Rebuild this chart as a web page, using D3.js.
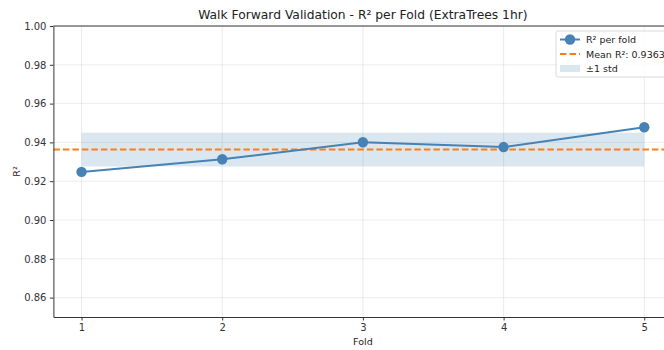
<!DOCTYPE html>
<html>
<head>
<meta charset="utf-8">
<script src="https://cdn.jsdelivr.net/npm/d3@7"></script>
<style>
  html, body { margin: 0; padding: 0; background: #fff; }
  svg { display: block; }
</style>
</head>
<body>
<div id="chart"></div>
<script>
// walk-forward R² per fold, ExtraTrees 1hr
const folds = [1, 2, 3, 4, 5];
const r2 = [0.9248, 0.9313, 0.9401, 0.9376, 0.9478];
const meanR2 = 0.9363;
const stdR2 = 0.0087;
const yTicks = [0.86, 0.88, 0.90, 0.92, 0.94, 0.96, 0.98, 1.00];
const legendLabels = ["R² per fold", "Mean R²: 0.9363", "±1 std"];

const W = 664, H = 350;
const ML = 53.4, MR = -8.4, MT = 26, MB = 33;
const FONT = "'DejaVu Sans', sans-serif";
const BLUE = "#4682b4", ORANGE = "#ff7f0e";

const x = d3.scaleLinear().domain([0.8, 5.2]).range([ML, W - MR]);
const y = d3.scaleLinear().domain([0.85, 1.0]).range([H - MB, MT]);

const svg = d3.select("#chart").append("svg")
  .attr("width", W).attr("height", H)
  .style("font-family", FONT);

svg.append("clipPath").attr("id", "plot")
  .append("rect").attr("x", ML).attr("y", MT)
  .attr("width", x(5.2) - ML).attr("height", y(0.85) - MT);

const plot = svg.append("g").attr("clip-path", "url(#plot)");

// grid
yTicks.forEach(v => {
  plot.append("line")
    .attr("x1", ML).attr("x2", x(5.2))
    .attr("y1", y(v)).attr("y2", y(v))
    .attr("stroke", "#b0b0b0").attr("stroke-opacity", 0.3).attr("stroke-width", 0.8);
});
folds.forEach(f => {
  plot.append("line")
    .attr("x1", x(f)).attr("x2", x(f))
    .attr("y1", MT).attr("y2", y(0.85))
    .attr("stroke", "#b0b0b0").attr("stroke-opacity", 0.3).attr("stroke-width", 0.8);
});

// ±1 std band
plot.append("rect")
  .attr("x", x(folds[0])).attr("width", x(folds[folds.length - 1]) - x(folds[0]))
  .attr("y", y(meanR2 + stdR2)).attr("height", y(meanR2 - stdR2) - y(meanR2 + stdR2))
  .attr("fill", BLUE).attr("fill-opacity", 0.2);

// mean line
plot.append("line")
  .attr("x1", ML).attr("x2", x(5.2))
  .attr("y1", y(meanR2)).attr("y2", y(meanR2))
  .attr("stroke", ORANGE).attr("stroke-width", 2).attr("stroke-dasharray", "6.5 3");

// fold line + markers
const pts = folds.map((f, i) => [f, r2[i]]);
plot.append("path")
  .attr("d", d3.line().x(d => x(d[0])).y(d => y(d[1]))(pts))
  .attr("fill", "none").attr("stroke", BLUE).attr("stroke-width", 2);
plot.selectAll("circle.pt").data(pts).join("circle")
  .attr("class", "pt")
  .attr("cx", d => x(d[0])).attr("cy", d => y(d[1])).attr("r", 5.2)
  .attr("fill", BLUE);

// axes
const yAxis = svg.append("g")
  .attr("transform", `translate(${ML},0)`)
  .call(d3.axisLeft(y).tickValues(yTicks).tickFormat(d3.format(".2f"))
    .tickSizeInner(3.5).tickSizeOuter(0).tickPadding(3.5));
const xAxis = svg.append("g")
  .attr("transform", `translate(0,${y(0.85)})`)
  .call(d3.axisBottom(x).tickValues(folds).tickFormat(d3.format("d"))
    .tickSizeInner(3.5).tickSizeOuter(0).tickPadding(3.5));
[yAxis, xAxis].forEach(a => {
  a.select(".domain").attr("stroke", "#333").attr("stroke-width", 1);
  a.selectAll(".tick line").attr("stroke", "#333");
  a.selectAll("text").attr("fill", "#333").style("font-size", "10px").style("font-family", FONT);
});
// top spine
svg.append("line")
  .attr("x1", ML).attr("x2", W).attr("y1", MT).attr("y2", MT)
  .attr("stroke", "#333").attr("stroke-width", 1);

// labels
svg.append("text")
  .attr("x", (ML + x(5.2)) / 2).attr("y", 19)
  .attr("text-anchor", "middle")
  .style("font-size", "12.3px").attr("fill", "#222")
  .text("Walk Forward Validation - R² per Fold (ExtraTrees 1hr)");
svg.append("text")
  .attr("x", (ML + x(5.2)) / 2).attr("y", 345)
  .attr("text-anchor", "middle")
  .style("font-size", "9.5px").attr("fill", "#222")
  .text("Fold");
svg.append("text")
  .attr("transform", `translate(20,${(MT + y(0.85)) / 2}) rotate(-90)`)
  .attr("text-anchor", "middle")
  .style("font-size", "9.5px").attr("fill", "#222")
  .text("R²");

// legend
const lg = svg.append("g").attr("transform", "translate(556,31)");
lg.append("rect")
  .attr("x", 0).attr("y", 0).attr("width", 120).attr("height", 46).attr("rx", 2)
  .attr("fill", "#fff").attr("fill-opacity", 0.8)
  .attr("stroke", "#d0d0d0").attr("stroke-width", 0.8);
const rowY = [8.5, 23, 37.5];
lg.append("line").attr("x1", 4).attr("x2", 24).attr("y1", rowY[0]).attr("y2", rowY[0])
  .attr("stroke", BLUE).attr("stroke-width", 2);
lg.append("circle").attr("cx", 14).attr("cy", rowY[0]).attr("r", 5.2).attr("fill", BLUE);
lg.append("line").attr("x1", 4).attr("x2", 24).attr("y1", rowY[1]).attr("y2", rowY[1])
  .attr("stroke", ORANGE).attr("stroke-width", 2).attr("stroke-dasharray", "6.5 3");
lg.append("rect").attr("x", 4).attr("y", rowY[2] - 3.5).attr("width", 20).attr("height", 7)
  .attr("fill", BLUE).attr("fill-opacity", 0.2);
legendLabels.forEach((t, i) => {
  lg.append("text")
    .attr("x", 30).attr("y", rowY[i] + 3.5)
    .style("font-size", "9.5px").attr("fill", "#222")
    .text(t);
});
</script>
</body>
</html>
